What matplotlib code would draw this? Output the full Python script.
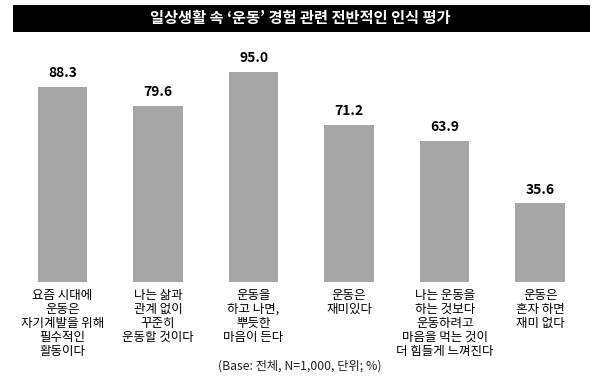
import matplotlib
matplotlib.use("Agg")
import matplotlib.pyplot as plt
from matplotlib.patches import Rectangle

plt.rcParams['font.family'] = ['Noto Sans CJK KR', 'DejaVu Sans']

title = "일상생활 속 \u2018운동\u2019 경험 관련 전반적인 인식 평가"
categories = [
    "요즘 시대에\n운동은\n자기계발을 위해\n필수적인\n활동이다",
    "나는 삶과\n관계 없이\n꾸준히\n운동할 것이다",
    "운동을\n하고 나면,\n뿌듯한\n마음이 든다",
    "운동은\n재미있다",
    "나는 운동을\n하는 것보다\n운동하려고\n마음을 먹는 것이\n더 힘들게 느껴진다",
    "운동은\n혼자 하면\n재미 없다",
]
values = [88.3, 79.6, 95.0, 71.2, 63.9, 35.6]
footnote = "(Base: 전체, N=1,000, 단위; %)"

fig = plt.figure(figsize=(6, 3.84), dpi=100)
ax = fig.add_axes([0.0246, 0.2656, 0.9553, 0.5755])
x = list(range(len(values)))
ax.bar(x, values, width=0.52, color="#a6a6a6")
ax.set_xlim(-0.5, 5.5)
ax.set_ylim(0, 100)
for xi, v in zip(x, values):
    ax.text(xi, v + 3, f"{v:.1f}", ha="center", va="bottom", fontsize=10, fontweight="bold")
for xi, c in zip(x, categories):
    ax.text(xi, -3.2, c, ha="center", va="top", fontsize=9, linespacing=1.1)
ax.axis("off")

fig.patches.append(Rectangle((0.022, 0.917), 0.961, 0.07, transform=fig.transFigure,
                             facecolor="black", edgecolor="none"))
fig.text(0.5, 0.952, title, color="white", ha="center", va="center", fontsize=11, fontweight="bold")
fig.text(0.5, 0.047, footnote, ha="center", va="center", fontsize=8.8, color="#222222")

fig.savefig("out.png", dpi=100)
